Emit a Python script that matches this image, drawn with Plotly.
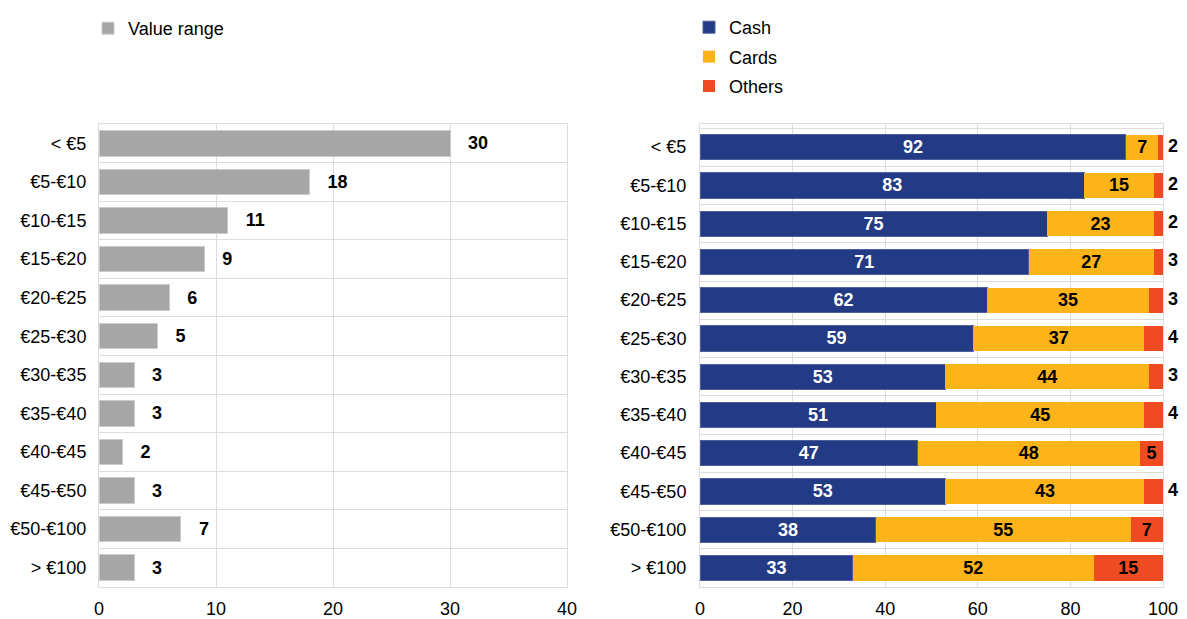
import plotly.graph_objects as go

categories = ["< €5", "€5-€10", "€10-€15", "€15-€20", "€20-€25", "€25-€30",
              "€30-€35", "€35-€40", "€40-€45", "€45-€50", "€50-€100", "> €100"]
value_range = [30, 18, 11, 9, 6, 5, 3, 3, 2, 3, 7, 3]
cash = [92, 83, 75, 71, 62, 59, 53, 51, 47, 53, 38, 33]
cards = [7, 15, 23, 27, 35, 37, 44, 45, 48, 43, 55, 52]
others = [2, 2, 2, 3, 3, 4, 3, 4, 5, 4, 7, 15]
left_ticks = [0, 10, 20, 30, 40]
right_ticks = [0, 20, 40, 60, 80, 100]

FONT = "Liberation Sans, Arial, sans-serif"
GREY = "#A6A6A6"
BLUE = "#233A84"
YELLOW = "#FDB31A"
RED = "#EF4B23"
NB = "\u00a0"
LBL = dict(family=FONT, size=18, weight="bold")

fig = go.Figure()

fig.add_trace(go.Bar(
    y=categories, x=value_range, orientation="h", name="Value range",
    marker=dict(color=GREY, line=dict(color="#CBCBCB", width=1)),
    text=[f"{NB*3}{v}" for v in value_range], textposition="outside", textangle=0,
    textfont=dict(color="black", **LBL),
    cliponaxis=False, constraintext="none",
    xaxis="x", yaxis="y", legend="legend", showlegend=True,
))

fig.add_trace(go.Bar(
    y=categories, x=cash, orientation="h", name="Cash",
    marker=dict(color=BLUE, line=dict(color="#4F5F9E", width=1)),
    text=[str(v) for v in cash], textposition="inside", insidetextanchor="middle",
    textangle=0, textfont=dict(color="white", **LBL),
    constraintext="none", xaxis="x2", yaxis="y2", legend="legend2", legendgroup="a",
))
fig.add_trace(go.Bar(
    y=categories, x=cards, orientation="h", name="Cards",
    marker=dict(color=YELLOW, line=dict(width=0)),
    text=[str(v) for v in cards], textposition="inside", insidetextanchor="middle",
    textangle=0, textfont=dict(color="black", **LBL),
    constraintext="none", xaxis="x2", yaxis="y2", legend="legend2", legendgroup="b",
))
fig.add_trace(go.Bar(
    y=categories, x=others, orientation="h", name="Others",
    marker=dict(color=RED, line=dict(width=0)),
    text=[str(v) if v >= 5 else "" for v in others],
    textposition="inside", insidetextanchor="middle", textangle=0,
    textfont=dict(color="black", **LBL),
    constraintext="none",
    xaxis="x2", yaxis="y2", legend="legend2", legendgroup="c",
))
# labels of the small "Others" segments, written just past the end of each stack
small = [i for i, v in enumerate(others) if v < 5]
fig.add_trace(go.Scatter(
    y=[categories[i] for i in small],
    x=[min(cash[i] + cards[i] + others[i], 100) for i in small],
    text=[f"{NB}{others[i]}" for i in small],
    mode="text", textposition="middle right",
    textfont=dict(color="black", **LBL), cliponaxis=False,
    showlegend=False, hoverinfo="skip", xaxis="x2", yaxis="y2",
))

W, H = 1187, 619
ydom = [1 - 587 / H, 1 - 124 / H]
axis_common = dict(showgrid=True, gridcolor="#DDDDDD", gridwidth=1, zeroline=False,
                   automargin=False, showline=True, mirror=True, linecolor="#DDDDDD",
                   linewidth=1,
                   tickfont=dict(family=FONT, size=18, color="black"))

fig.update_layout(
    width=W, height=H, barmode="stack", bargap=0.34,
    plot_bgcolor="white", paper_bgcolor="white",
    margin=dict(l=0, r=0, t=0, b=0, autoexpand=False),
    font=dict(family=FONT, size=18, color="black"),
    xaxis=dict(domain=[99 / W, 567 / W], range=[0, 40], tickvals=left_ticks,
               anchor="y", ticks="", ticklabelstandoff=5, **axis_common),
    yaxis=dict(domain=ydom, type="category", categoryorder="array",
               categoryarray=categories, autorange="reversed", tickson="boundaries",
               anchor="x", ticks="", ticklabelstandoff=8, **axis_common),
    xaxis2=dict(domain=[700 / W, 1163 / W], range=[0, 100], tickvals=right_ticks,
                anchor="y2", ticks="", ticklabelstandoff=5, **axis_common),
    yaxis2=dict(domain=ydom, type="category", categoryorder="array",
                categoryarray=categories, autorange="reversed", tickson="boundaries",
                anchor="x2", ticks="", ticklabelstandoff=9, **axis_common),
    legend=dict(x=88 / W, y=1 - 10 / H, xanchor="left", yanchor="top",
                bgcolor="rgba(0,0,0,0)", font=dict(family=FONT, size=18)),
    legend2=dict(x=689 / W, y=1 - 9 / H, xanchor="left", yanchor="top",
                 bgcolor="rgba(0,0,0,0)", font=dict(family=FONT, size=18),
                 traceorder="grouped", tracegroupgap=3),
)

fig.write_html("out.html", config={"displayModeBar": False},
               post_script="document.body.style.margin='0';")
